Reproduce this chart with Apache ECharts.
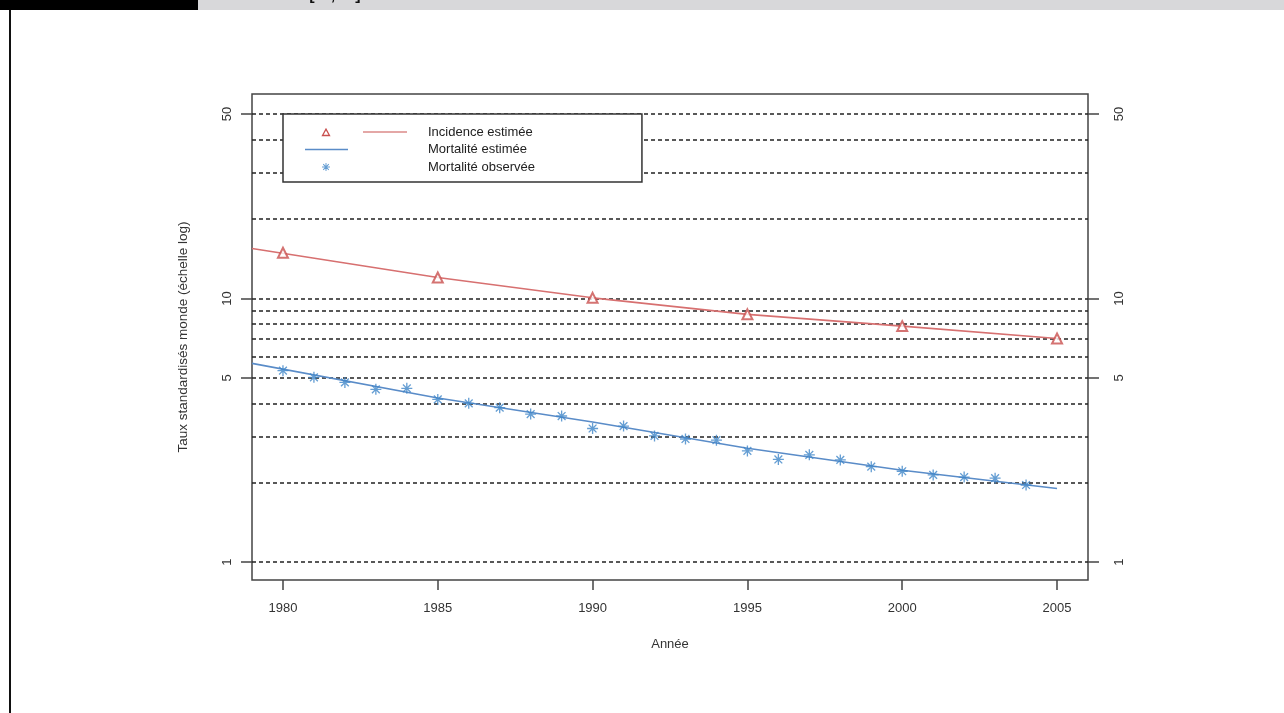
<!DOCTYPE html>
<html>
<head>
<meta charset="utf-8">
<script src="https://cdn.jsdelivr.net/npm/echarts@6/dist/echarts.min.js"></script>
<style>
    html, body { margin: 0; padding: 0; background: #fff; }
    #chart { width: 1284px; height: 713px; }
</style>
</head>
<body>
<div id="chart"></div>
<script>
    // incidence estimée (ligne) et points triangles
    const incLineYears = [1979, 1985, 1990, 1995, 2000, 2005];
    const incLineValues = [15.47, 12.01, 10.05, 8.70, 7.85, 7.05];
    const incPointYears = [1980, 1985, 1990, 1995, 2000, 2005];
    const incPointValues = [14.89, 12.01, 10.05, 8.70, 7.85, 7.05];

    // mortalité estimée (ligne)
    const mortLineYears = [1979, 1985, 1990, 1995, 2000, 2005];
    const mortLineValues = [5.67, 4.19, 3.40, 2.70, 2.23, 1.90];

    // mortalité observée (astérisques)
    const mortObsYears = [1980, 1981, 1982, 1983, 1984, 1985, 1986, 1987, 1988, 1989, 1990, 1991, 1992,
        1993, 1994, 1995, 1996, 1997, 1998, 1999, 2000, 2001, 2002, 2003, 2004];
    const mortObsValues = [5.32, 5.02, 4.80, 4.52, 4.56, 4.14, 4.00, 3.85, 3.64, 3.58, 3.21, 3.28, 3.01,
        2.93, 2.90, 2.64, 2.45, 2.55, 2.44, 2.30, 2.21, 2.14, 2.10, 2.08, 1.96];

    const xTicks = [1980, 1985, 1990, 1995, 2000, 2005];
    const yTicks = [1, 5, 10, 50];
    const gridValues = [1, 2, 3, 4, 5, 6, 7, 8, 9, 10, 20, 30, 40, 50];

    const red = '#c9504f';
    const redLine = '#d77070';
    const blue = '#3f86c8';
    const blueLine = '#5a8cc8';
    const font = 'Liberation Sans, Arial, sans-serif';

    const asterisk = 'path://M3.11 -3.96L3.96 -3.11L0.849 0L3.96 3.11L3.11 3.96L0 0.849L-3.11 3.96L-3.96 3.11L-0.849 0L-3.96 -3.11L-3.11 -3.96L0 -0.849Z' +
        'M-0.6 -5L0.6 -5L0.6 -0.6L5 -0.6L5 0.6L0.6 0.6L0.6 5L-0.6 5L-0.6 0.6L-5 0.6L-5 -0.6L-0.6 -0.6Z';

    // icones de légende (118 x 14), coins minuscules pour fixer la boîte
    const corners = 'M0 0L0.01 0L0.01 0.01ZM118 14L117.99 14L117.99 13.99Z';
    const iconInc = 'path://' + corners +
        'M21 2.8L25.6 11.2L16.4 11.2ZM21 5.4L18.6 9.8L23.4 9.8Z' +
        'M58 6.4L102 6.4L102 7.6L58 7.6Z';
    const iconMortEst = 'path://' + corners + 'M0 6.3L43 6.3L43 7.7L0 7.7Z';
    const iconMortObs = 'path://' + corners +
        'M23.49 3.83L24.17 4.51L21.68 7L24.17 9.49L23.49 10.17L21 7.68L18.51 10.17L17.83 9.49L20.32 7L17.83 4.51L18.51 3.83L21 6.32Z' +
        'M20.52 3L21.48 3L21.48 6.52L25 6.52L25 7.48L21.48 7.48L21.48 11L20.52 11L20.52 7.48L17 7.48L17 6.52L20.52 6.52Z';

    const pairs = (xs, ys) => xs.map((x, i) => [x, ys[i]]);

    const yAxisBase = {
        type: 'log',
        logBase: 10,
        min: 0.855,
        max: 59.6,
        axisLine: { show: false },
        splitLine: { show: false },
        axisTick: { show: true, length: 11, customValues: yTicks, lineStyle: { color: '#444', width: 1.5 } },
        axisLabel: { customValues: yTicks, rotate: 90, fontSize: 13, color: '#333', fontFamily: font, formatter: v => String(v) }
    };

    const chart = echarts.init(document.getElementById('chart'));
    chart.setOption({
        animation: false,
        backgroundColor: '#fff',
        textStyle: { fontFamily: font },
        grid: {
            left: 252, right: 196, top: 94, bottom: 133,
            show: true, borderColor: '#444', borderWidth: 1.5, backgroundColor: 'transparent'
        },
        legend: {
            orient: 'vertical',
            left: 283,
            top: 114,
            itemWidth: 118,
            itemHeight: 14,
            itemGap: 3.5,
            padding: [11, 107, 8, 22],
            backgroundColor: '#fff',
            borderColor: '#333',
            borderWidth: 1.5,
            selectedMode: false,
            itemStyle: { borderWidth: 0 },
            textStyle: { fontSize: 13, color: '#222', fontFamily: font },
            data: [
                { name: 'Incidence estimée', icon: iconInc, itemStyle: { color: red } },
                { name: 'Mortalité estimée', icon: iconMortEst, itemStyle: { color: blueLine } },
                { name: 'Mortalité observée', icon: iconMortObs, itemStyle: { color: blue } }
            ]
        },
        xAxis: {
            type: 'value',
            min: 1979,
            max: 2006,
            name: 'Année',
            nameLocation: 'middle',
            nameGap: 58,
            nameTextStyle: { fontSize: 13, color: '#333', fontFamily: font },
            axisLine: { show: false },
            splitLine: { show: false },
            axisTick: { show: true, length: 10, customValues: xTicks, lineStyle: { color: '#444', width: 1.5 } },
            axisLabel: { customValues: xTicks, margin: 22, fontSize: 13, color: '#333', fontFamily: font, formatter: v => String(v) }
        },
        yAxis: [
            Object.assign({}, yAxisBase, {
                position: 'left',
                name: 'Taux standardisés monde (échelle log)',
                nameLocation: 'middle',
                nameGap: 62,
                nameRotate: 90,
                nameTextStyle: { fontSize: 13.5, color: '#333', fontFamily: font },
                axisLabel: Object.assign({}, yAxisBase.axisLabel, { margin: 18 })
            }),
            Object.assign({}, yAxisBase, {
                position: 'right',
                axisLabel: Object.assign({}, yAxisBase.axisLabel, { margin: 25 })
            })
        ],
        series: [
            {
                name: 'Incidence estimée',
                type: 'line',
                data: pairs(incLineYears, incLineValues),
                showSymbol: false,
                lineStyle: { color: redLine, width: 1.6 },
                itemStyle: { color: red },
                z: 3,
                markLine: {
                    silent: true,
                    z: 1,
                    symbol: ['none', 'none'],
                    label: { show: false },
                    lineStyle: { color: '#222', type: [4, 3], width: 1.6 },
                    data: gridValues.map(v => ({ yAxis: v }))
                }
            },
            {
                name: 'Incidence estimée',
                type: 'scatter',
                data: pairs(incPointYears, incPointValues),
                symbol: 'emptyTriangle',
                symbolSize: 10,
                itemStyle: { color: red, borderColor: red, borderWidth: 1.5 },
                z: 4
            },
            {
                name: 'Mortalité estimée',
                type: 'line',
                data: pairs(mortLineYears, mortLineValues),
                showSymbol: false,
                lineStyle: { color: blueLine, width: 1.6 },
                itemStyle: { color: blueLine },
                z: 3
            },
            {
                name: 'Mortalité observée',
                type: 'scatter',
                data: pairs(mortObsYears, mortObsValues),
                symbol: asterisk,
                symbolSize: 11,
                itemStyle: { color: blue },
                z: 4
            }
        ],
        graphic: [
            { type: 'rect', shape: { x: 0, y: 0, width: 198, height: 10 }, style: { fill: '#000' } },
            { type: 'rect', shape: { x: 198, y: 0, width: 1086, height: 10 }, style: { fill: '#d8d8da' } },
            { type: 'rect', shape: { x: 9, y: 10, width: 2, height: 703 }, style: { fill: '#111' } },
            { type: 'text', x: 312, y: 4, style: { text: '[', fontSize: 16, fontWeight: 'bold', fill: '#111', align: 'center', verticalAlign: 'bottom' } },
            { type: 'text', x: 333, y: 4, style: { text: ',', fontSize: 16, fontWeight: 'bold', fill: '#111', align: 'center', verticalAlign: 'bottom' } },
            { type: 'text', x: 358, y: 4, style: { text: ']', fontSize: 16, fontWeight: 'bold', fill: '#111', align: 'center', verticalAlign: 'bottom' } }
        ]
    });
</script>
</body>
</html>
